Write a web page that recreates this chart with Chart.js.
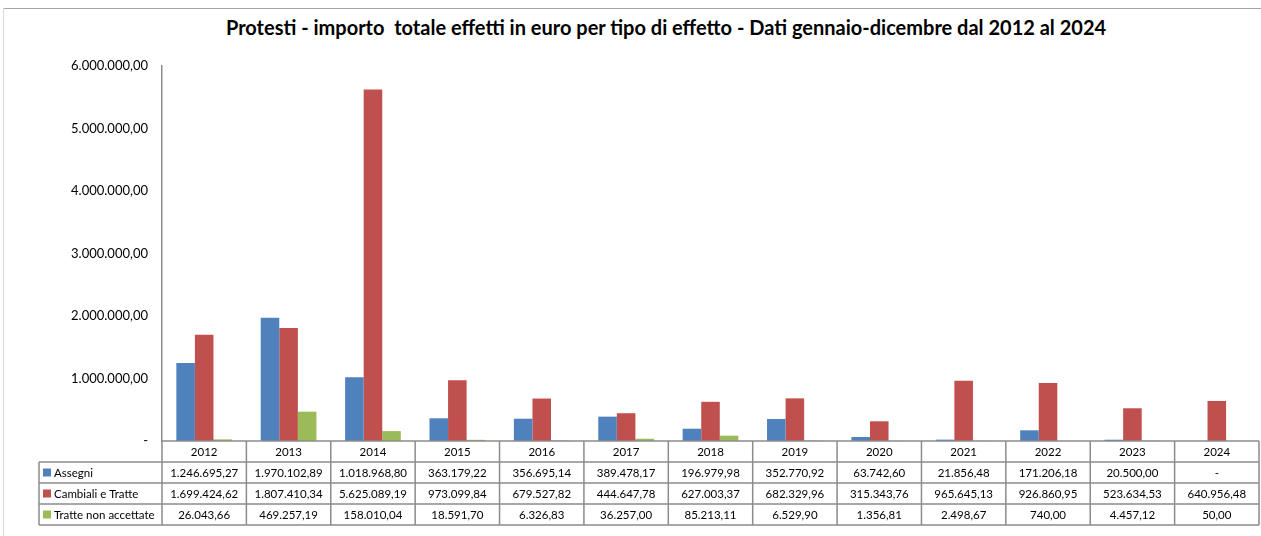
<!DOCTYPE html>
<html><head><meta charset="utf-8">
<script src="https://cdn.jsdelivr.net/npm/chart.js@4"></script>
<style>
html,body{margin:0;padding:0;background:#fff;}
#wrap{position:relative;width:1261px;height:536px;overflow:hidden;}
#frameTop{position:absolute;left:3px;top:8px;width:1258px;height:0;border-top:1px solid #a6a6a6;}
#frameLeft{position:absolute;left:3px;top:8px;width:0;height:528px;border-left:1px solid #d9d9d9;}
#title{position:absolute;top:15px;left:71px;width:1190px;text-align:center;font-family:Lato,"Open Sans",sans-serif;font-weight:bold;font-size:20px;line-height:24px;color:#000;white-space:pre;}
canvas{position:absolute;left:0;top:0;}
</style>
</head><body>
<div id="wrap">
<div id="frameTop"></div><div id="frameLeft"></div>
<div id="title">Protesti - importo  totale effetti in euro per tipo di effetto - Dati gennaio-dicembre dal 2012 al 2024</div>
<canvas id="c" width="1261" height="536"></canvas>
</div>
<script>
const categories = ['2012','2013','2014','2015','2016','2017','2018','2019','2020','2021','2022','2023','2024'];
const seriesNames = ['Assegni','Cambiali e Tratte','Tratte non accettate'];
const assegni = [1246695.27, 1970102.89, 1018968.80, 363179.22, 356695.14, 389478.17, 196979.98, 352770.92, 63742.60, 21856.48, 171206.18, 20500.00, null];
const cambiali = [1699424.62, 1807410.34, 5625089.19, 973099.84, 679527.82, 444647.78, 627003.37, 682329.96, 315343.76, 965645.13, 926860.95, 523634.53, 640956.48];
const tratte = [26043.66, 469257.19, 158010.04, 18591.70, 6326.83, 36257.00, 85213.11, 6529.90, 1356.81, 2498.67, 740.00, 4457.12, 50.00];
const yTicks = [0, 1000000, 2000000, 3000000, 4000000, 5000000, 6000000];

const colors = ['#4F81BD', '#C0504D', '#9BBB59'];
const FONT = 'Lato, "Open Sans", sans-serif';

function fmt(v) {
  if (v === null || v === undefined || v === 0) return '-';
  const parts = Math.abs(v).toFixed(2).split('.');
  const intPart = parts[0].replace(/\B(?=(\d{3})+(?!\d))/g, '.');
  return (v < 0 ? '-' : '') + intPart + ',' + parts[1];
}

const tablePlugin = {
  id: 'dataTable',
  afterDraw(chart) {
    const ctx = chart.ctx;
    const xs = chart.scales.x;
    const area = chart.chartArea;
    const n = categories.length;
    const colW = (area.right - area.left) / n;
    const top = area.bottom;
    const rowH = 21;
    const legendLeft = 39;
    const rows = [assegni, cambiali, tratte];
    ctx.save();
    ctx.strokeStyle = '#8c8c8c';
    ctx.lineWidth = 1.5;
    ctx.beginPath();
    ctx.moveTo(area.left, top); ctx.lineTo(area.right, top);
    for (let r = 1; r <= 4; r++) {
      const y = top + r * rowH;
      ctx.moveTo(legendLeft, y); ctx.lineTo(area.right, y);
    }
    for (let i = 0; i <= n; i++) {
      const x = area.left + i * colW;
      ctx.moveTo(x, top); ctx.lineTo(x, top + 4 * rowH);
    }
    ctx.moveTo(legendLeft, top + rowH); ctx.lineTo(legendLeft, top + 4 * rowH);
    ctx.stroke();

    ctx.fillStyle = '#000';
    ctx.font = '11.5px ' + FONT;
    ctx.textAlign = 'center';
    ctx.textBaseline = 'middle';
    for (let i = 0; i < n; i++) {
      const cx = xs.getPixelForValue(i);
      ctx.fillText(categories[i], cx, top + rowH / 2 + 0.5);
      for (let r = 0; r < 3; r++) {
        ctx.fillText(fmt(rows[r][i]), cx, top + (r + 1) * rowH + rowH / 2 + 0.5);
      }
    }
    ctx.textAlign = 'left';
    for (let r = 0; r < 3; r++) {
      const cy = top + (r + 1) * rowH + rowH / 2;
      ctx.fillStyle = colors[r];
      ctx.fillRect(43, cy - 4, 8, 8);
      ctx.fillStyle = '#000';
      ctx.fillText(seriesNames[r], 54, cy + 0.5);
    }
    ctx.restore();
  }
};

new Chart(document.getElementById('c'), {
  type: 'bar',
  data: {
    labels: categories,
    datasets: [
      { label: seriesNames[0], data: assegni, backgroundColor: colors[0] },
      { label: seriesNames[1], data: cambiali, backgroundColor: colors[1] },
      { label: seriesNames[2], data: tratte, backgroundColor: colors[2] }
    ]
  },
  options: {
    responsive: false,
    animation: false,
    devicePixelRatio: 1,
    layout: { padding: { top: 66, bottom: 95, left: 0, right: 2 } },
    datasets: { bar: { categoryPercentage: 0.66, barPercentage: 1.0, borderWidth: 0 } },
    plugins: { legend: { display: false }, title: { display: false }, tooltip: { enabled: false } },
    scales: {
      x: { type: 'category', display: false, offset: true, grid: { display: false } },
      y: {
        min: 0, max: 6000000,
        afterBuildTicks(scale) { scale.ticks = yTicks.map(v => ({ value: v })); },
        afterFit(scale) { scale.width = 162; scale.paddingTop = 0; scale.paddingBottom = 0; },
        grid: { display: false, drawTicks: false },
        border: { display: true, color: '#8c8c8c', width: 1.5 },
        ticks: { padding: 14, color: '#000', font: { family: FONT, size: 13 }, callback: v => fmt(v) }
      }
    }
  },
  plugins: [tablePlugin]
});
</script>
</body></html>
